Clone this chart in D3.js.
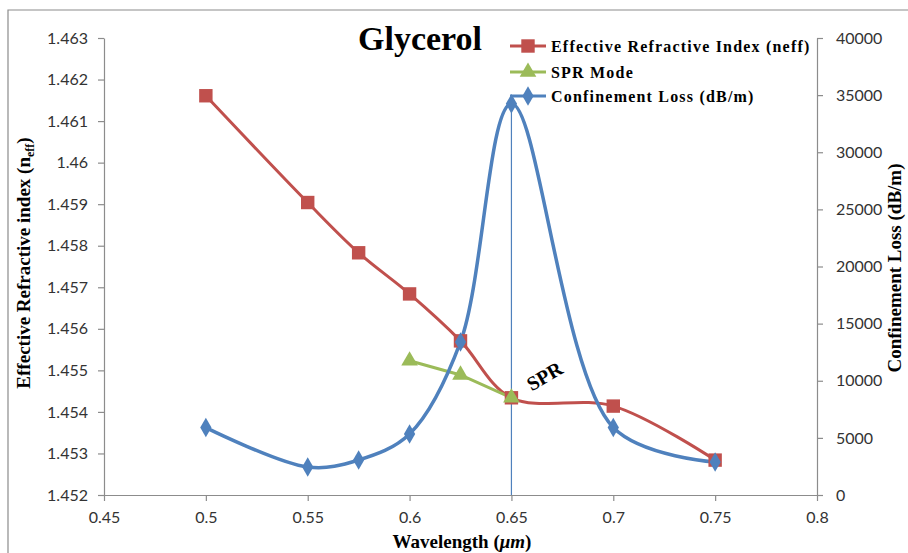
<!DOCTYPE html>
<html><head><meta charset="utf-8">
<script src="https://cdn.jsdelivr.net/npm/d3@7"></script>
<style>body{margin:0;background:#fff}svg{display:block}</style>
</head><body><svg id="c" width="908" height="553"></svg>
<script>
const wavelength = [0.5, 0.55, 0.575, 0.6, 0.625, 0.65, 0.7, 0.75];
const neff = [1.46161, 1.45904, 1.45783, 1.45684, 1.45571, 1.45434, 1.45414, 1.45284];
const sprWavelength = [0.6, 0.625, 0.65];
const sprMode = [1.45523, 1.45489, 1.45434];
const loss = [5900, 2450, 3060, 5340, 13400, 34240, 5900, 2890];
const xTicks = [0.45, 0.5, 0.55, 0.6, 0.65, 0.7, 0.75, 0.8];
const yLeftTicks = [1.452, 1.453, 1.454, 1.455, 1.456, 1.457, 1.458, 1.459, 1.46, 1.461, 1.462, 1.463];
const yRightTicks = [0, 5000, 10000, 15000, 20000, 25000, 30000, 35000, 40000];
const seriesNames = ["Effective Refractive Index (neff)", "SPR Mode", "Confinement Loss (dB/m)"];

const RED = "#C0504D", GREEN = "#9BBB59", BLUE = "#4F81BD";
const svg = d3.select("#c");
const L = 104, R = 817, T = 38, B = 495;
const x = d3.scaleLinear().domain([0.45, 0.8]).range([L, R]);
const yL = d3.scaleLinear().domain([1.452, 1.463]).range([B, T]);
const yR = d3.scaleLinear().domain([0, 40000]).range([B, T]);

// frame
svg.append("path").attr("d", "M8,553 V10 H908").attr("fill", "none").attr("stroke", "#8c8c8c").attr("stroke-width", 1.2);

const tickFont = "Lato, 'Open Sans', sans-serif";
function styleAxis(g) {
  g.selectAll("path.domain").attr("stroke", "#8c8c8c").attr("stroke-width", 1.2);
  g.selectAll(".tick line").attr("stroke", "#8c8c8c").attr("stroke-width", 1.2);
  g.selectAll(".tick text").attr("fill", "#333").style("font-family", tickFont).style("font-size", "16px");
}
const gx = svg.append("g").attr("transform", `translate(0,${B})`)
  .call(d3.axisBottom(x).tickValues(xTicks).tickFormat(d => String(d)).tickSize(6).tickSizeOuter(0).tickPadding(11));
styleAxis(gx);
const gl = svg.append("g").attr("transform", `translate(${L},0)`)
  .call(d3.axisLeft(yL).tickValues(yLeftTicks).tickFormat(d => String(+d.toFixed(3))).tickSize(6).tickSizeOuter(0).tickPadding(10));
styleAxis(gl);
const gr = svg.append("g").attr("transform", `translate(${R},0)`)
  .call(d3.axisRight(yR).tickValues(yRightTicks).tickFormat(d => String(d)).tickSize(6).tickSizeOuter(0).tickPadding(13));
styleAxis(gr);

// vertical SPR line at peak
const peakIdx = loss.indexOf(d3.max(loss));
svg.append("line").attr("x1", x(wavelength[peakIdx])).attr("x2", x(wavelength[peakIdx]))
  .attr("y1", yR(loss[peakIdx])).attr("y2", B).attr("stroke", BLUE).attr("stroke-width", 1.2);

const curve = d3.curveCatmullRom.alpha(0.5);
const lineNeff = d3.line().x((d, i) => x(wavelength[i])).y(d => yL(d)).curve(curve);
const lineSpr = d3.line().x((d, i) => x(sprWavelength[i])).y(d => yL(d));
const lineLoss = d3.line().x((d, i) => x(wavelength[i])).y(d => yR(d)).curve(curve);

svg.append("path").attr("d", lineNeff(neff)).attr("fill", "none").attr("stroke", RED).attr("stroke-width", 3);
svg.append("path").attr("d", lineSpr(sprMode)).attr("fill", "none").attr("stroke", GREEN).attr("stroke-width", 3);
svg.append("path").attr("d", lineLoss(loss)).attr("fill", "none").attr("stroke", BLUE).attr("stroke-width", 3.5);

const sq = d3.symbol().type(d3.symbolSquare).size(180);
const tri = d3.symbol().type(d3.symbolTriangle).size(120);
const dia = d3.symbol().type(d3.symbolDiamond).size(110);

svg.selectAll(".mr").data(neff).join("path").attr("d", sq)
  .attr("transform", (d, i) => `translate(${x(wavelength[i])},${yL(d)})`).attr("fill", RED);
svg.selectAll(".mg").data(sprMode).join("path").attr("d", tri)
  .attr("transform", (d, i) => `translate(${x(sprWavelength[i])},${yL(d)})`).attr("fill", GREEN);
svg.selectAll(".mb").data(loss).join("path").attr("d", dia)
  .attr("transform", (d, i) => `translate(${x(wavelength[i])},${yR(d)})`).attr("fill", BLUE);

// title
const serif = "'Liberation Serif', 'Times New Roman', serif";
svg.append("text").attr("x", 420).attr("y", 50).attr("text-anchor", "middle")
  .style("font-family", serif).style("font-weight", "bold").style("font-size", "34px").text("Glycerol");

// legend
const legY = [46, 72, 96];
const legColors = [RED, GREEN, BLUE];
const legSyms = [sq, tri, dia];
seriesNames.forEach((n, i) => {
  svg.append("line").attr("x1", 510).attr("x2", 546).attr("y1", legY[i]).attr("y2", legY[i])
    .attr("stroke", legColors[i]).attr("stroke-width", 3);
  svg.append("path").attr("d", legSyms[i]).attr("transform", `translate(528,${legY[i]})`).attr("fill", legColors[i]);
  svg.append("text").attr("x", 551).attr("y", legY[i] + 5.5)
    .style("font-family", serif).style("font-weight", "bold").style("font-size", "16px")
    .style("letter-spacing", "1.2px").text(n);
});

// axis titles
const lt = svg.append("text").attr("transform", "translate(30,263) rotate(-90)").attr("text-anchor", "middle")
  .style("font-family", serif).style("font-weight", "bold").style("font-size", "19px");
lt.append("tspan").text("Effective Refractive index (n");
lt.append("tspan").attr("dy", 4).style("font-size", "12px").text("eff");
lt.append("tspan").attr("dy", -4).text(")");

svg.append("text").attr("transform", "translate(901,268) rotate(-90)").attr("text-anchor", "middle")
  .style("font-family", serif).style("font-weight", "bold").style("font-size", "19px").text("Confinement Loss (dB/m)");

const bt = svg.append("text").attr("x", 462).attr("y", 548).attr("text-anchor", "middle")
  .style("font-family", serif).style("font-weight", "bold").style("font-size", "19px");
bt.append("tspan").text("Wavelength (");
bt.append("tspan").style("font-style", "italic").text("μm");
bt.append("tspan").text(")");

// SPR annotation
svg.append("text").attr("transform", "translate(548,382) rotate(-30)").attr("text-anchor", "middle")
  .style("font-family", serif).style("font-weight", "bold").style("font-size", "20px").text("SPR");
</script></body></html>
